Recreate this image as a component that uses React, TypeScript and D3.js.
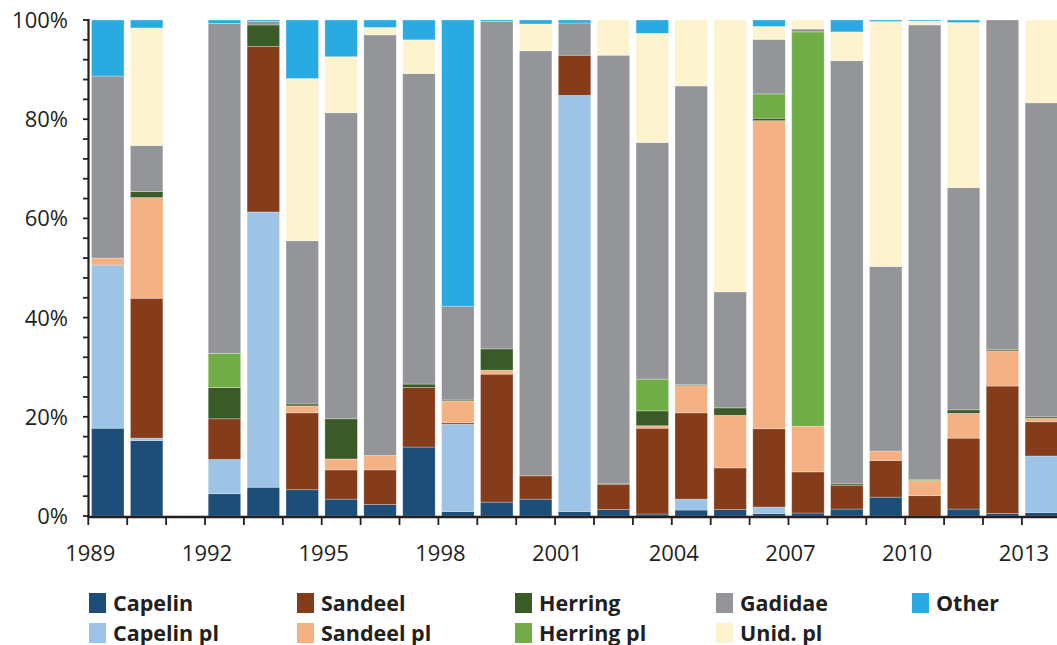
import React from "react";
import * as d3 from "d3";

const years = ["1989","1990","1991","1992","1993","1994","1995","1996","1997","1998","1999","2000","2001","2002","2003","2004","2005","2006","2007","2008","2009","2010","2011","2012","2013"];
const labeledYears = ["1989","1992","1995","1998","2001","2004","2007","2010","2013"];
const yTickLabels = [0, 20, 40, 60, 80, 100];

const seriesNames = ["Capelin","Capelin pl","Sandeel","Sandeel pl","Herring","Herring pl","Gadidae","Unid. pl","Other"];
const seriesColors = ["#1d4e79","#9dc3e6","#843c1b","#f4b183","#3a5a28","#71ad47","#949599","#fdf3cf","#29abe2"];

const capelin   = [17.7,15.2,0,4.5,5.8,5.3,3.4,2.3,13.9,0.9,2.8,3.4,0.9,1.3,0.4,1.2,1.3,0.5,0.6,1.4,3.8,0,1.4,0.5,0.7];
const capelinPl = [32.9,0.5,0,6.9,55.5,0,0,0,0,17.6,0,0,83.9,0,0,2.2,0,1.3,0,0,0,0,0,0,11.4];
const sandeel   = [0,28.2,0,8.2,33.4,15.5,5.9,7.0,12.0,0.3,25.8,4.7,8.1,5.1,17.3,17.4,8.4,15.8,8.3,4.8,7.4,4.1,14.3,25.7,6.9];
const sandeelPl = [1.4,20.3,0,0,0,1.4,2.2,2.9,0,4.4,0.8,0,0,0,0.5,5.5,10.6,62.1,9.2,0,1.9,3.0,5.0,7.1,0.7];
const herring   = [0,1.2,0,6.3,4.3,0.4,8.1,0,0.7,0.2,4.3,0,0,0.2,3.0,0.2,1.5,0.5,0,0.3,0,0,0.7,0.3,0.3];
const herringPl = [0,0,0,6.9,0,0,0,0,0,0,0,0,0,0,6.4,0,0,4.9,79.5,0,0,0.2,0,0,0];
const gadidae   = [36.7,9.3,0,66.5,0.7,32.9,61.7,84.8,62.6,18.9,66.0,85.7,6.5,86.3,47.7,60.2,23.4,11.0,0.6,85.3,37.2,91.7,44.8,66.4,63.3];
const unidPl    = [0,23.7,0,0,0,32.7,11.3,1.5,6.8,0,0,5.4,0,7.1,22.0,13.3,54.8,2.6,1.8,5.8,49.4,0.8,33.3,0,16.7];
const other     = [11.3,1.6,0,0.7,0.3,11.8,7.4,1.5,4.0,57.7,0.3,0.8,0.6,0,2.7,0,0,1.3,0,2.4,0.3,0.2,0.5,0,0];

const seriesValues = [capelin, capelinPl, sandeel, sandeelPl, herring, herringPl, gadidae, unidPl, other];

const W = 1057, H = 645;
const FONT = "'Open Sans', 'Noto Sans', sans-serif";
const TEXT = "#231f20";

export default function App() {
  const x0 = 88.3, step = 38.9;
  const x = d3.scaleBand<string>().domain(years).range([x0, x0 + step * years.length]).paddingInner(0.165).paddingOuter(0.0825);
  const y = d3.scaleLinear().domain([0, 100]).range([516, 20]);

  const rows = years.map((yr, i) => {
    const r: any = { year: yr };
    seriesNames.forEach((s, j) => (r[s] = seriesValues[j][i]));
    return r;
  });
  const stack = d3.stack<any>().keys(seriesNames).order(d3.stackOrderNone).offset(d3.stackOffsetNone);
  const layers = stack(rows);

  const minorTicks = d3.range(0, 101, 4);
  const boundaries = years.map((yr) => x(yr)! - x.step() * x.paddingOuter()).concat([x.range()[1]]);

  const legendCols = [89, 297, 515, 716, 912];
  const legendRows = [593, 623];
  const legendOrder = [
    [0, 0, 0], [2, 1, 0], [4, 2, 0], [6, 3, 0], [8, 4, 0],
    [1, 0, 1], [3, 1, 1], [5, 2, 1], [7, 3, 1],
  ];

  return (
    <svg width={W} height={H} style={{ position: "absolute", left: 0, top: 0 }} fontFamily={FONT}>
      <rect width={W} height={H} fill="#fff" />
      {layers.map((layer, li) => (
        <g key={layer.key} fill={seriesColors[li]}>
          {layer.map((d, i) => {
            const h = y(d[0]) - y(d[1]);
            if (h <= 0) return null;
            return (
              <rect key={i} x={x(years[i])} y={y(d[1])} width={x.bandwidth()} height={h}
                stroke="#ffffff" strokeOpacity={0.35} strokeWidth={0.8} />
            );
          })}
        </g>
      ))}
      {/* y axis */}
      <line x1={88.5} x2={88.5} y1={19} y2={517} stroke={TEXT} strokeWidth={2.2} />
      {minorTicks.map((t) => (
        <line key={t} x1={83} x2={88.5} y1={y(t)} y2={y(t)} stroke={TEXT} strokeWidth={1.8} />
      ))}
      {yTickLabels.map((t) => (
        <text key={t} x={68} y={y(t) + 8} textAnchor="end" fontSize={22} fill={TEXT}>{t}%</text>
      ))}
      {/* x axis */}
      <line x1={87.5} x2={W} y1={517} y2={517} stroke={TEXT} strokeWidth={2.4} />
      {boundaries.map((b, i) => (
        <line key={i} x1={b} x2={b} y1={517} y2={525} stroke={TEXT} strokeWidth={1.8} />
      ))}
      {labeledYears.map((yr) => (
        <text key={yr} x={x(yr)! - x.step() * x.paddingOuter() + 2} y={561} textAnchor="middle" fontSize={22} fill={TEXT}>{yr}</text>
      ))}
      {/* legend */}
      {legendOrder.map(([si, col, row]) => (
        <g key={si}>
          <rect x={legendCols[col]} y={legendRows[row]} width={17} height={20} fill={seriesColors[si]} />
          <text x={legendCols[col] + 24} y={legendRows[row] + 18} fontSize={21.5} fontWeight={700} fill={TEXT}>{seriesNames[si]}</text>
        </g>
      ))}
    </svg>
  );
}
